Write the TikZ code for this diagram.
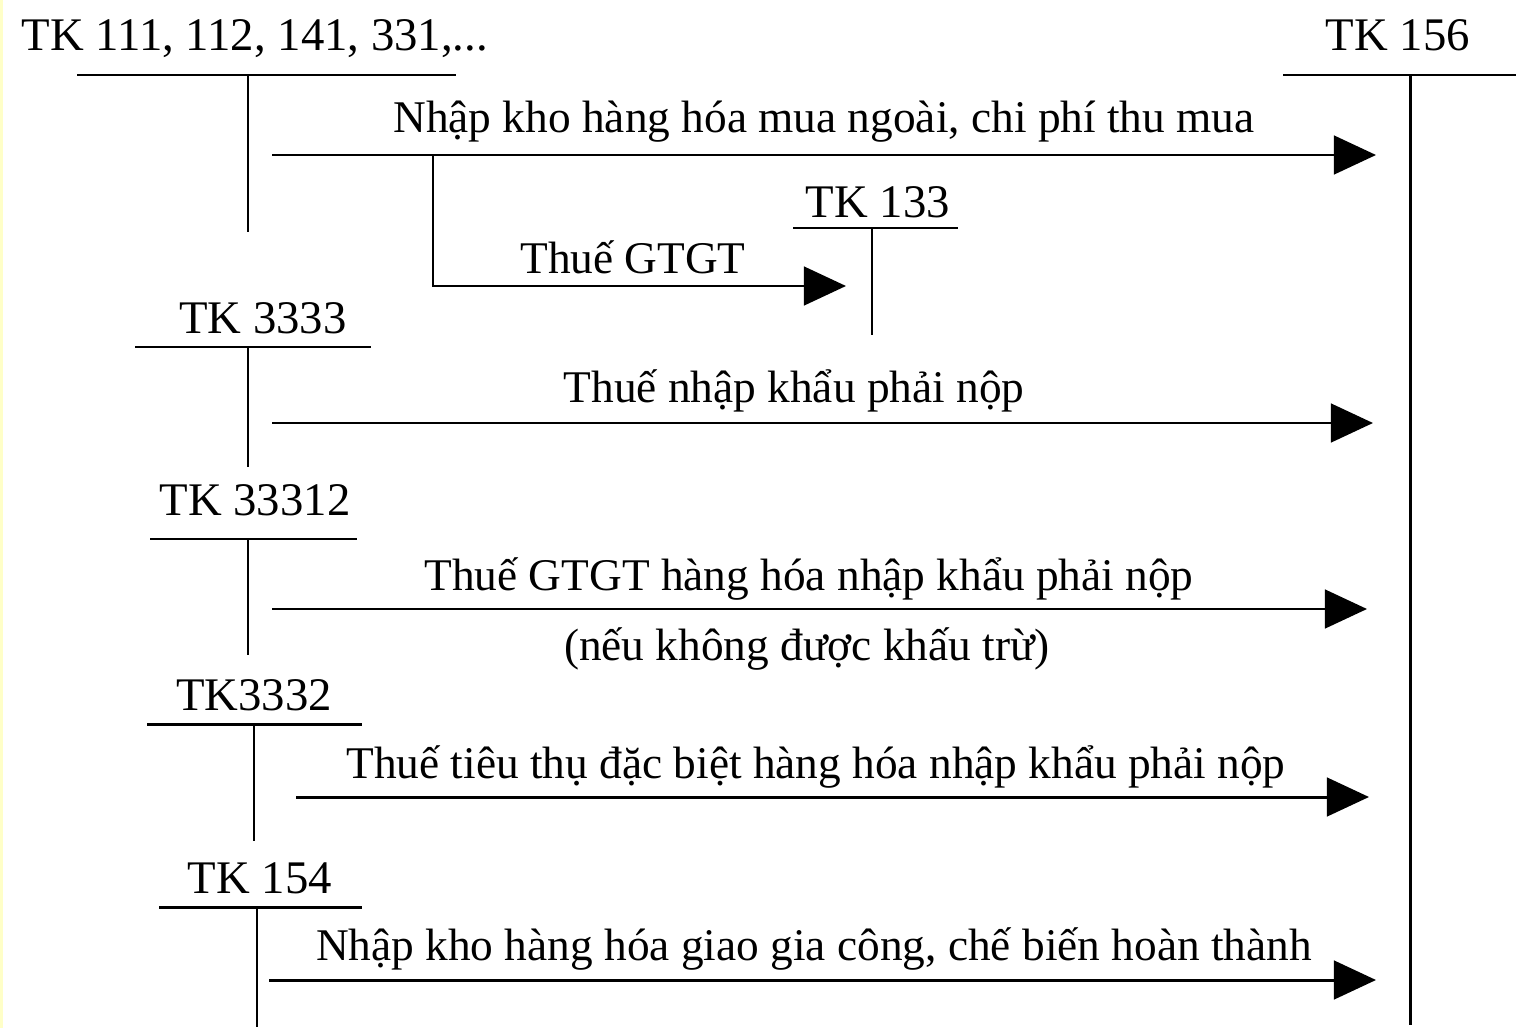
\documentclass[tikz,border=0pt]{standalone}
\usepackage{fontspec}
\setmainfont{Liberation Serif}
\usetikzlibrary{arrows.meta}
\definecolor{edgeyellow}{RGB}{255,255,200}

\begin{document}
\begin{tikzpicture}[x=0.02cm,y=-0.02cm,line width=1.7pt,
    font=\fontsize{26.6}{32}\selectfont,
    flow/.style={-{Triangle[length=24pt,width=22pt]}},
    lbl/.style={anchor=base,inner sep=0pt},
    flowlbl/.style={lbl,font=\fontsize{25.8}{31}\selectfont}]
    % Page and left edge
    \useasboundingbox (0,0) rectangle (1516,1028);
    \fill[white] (0,0) rectangle (1516,1028);
    \fill[edgeyellow] (0,0) rectangle (3,1028);

    % Draw T-accounts
    \node[lbl] (tk111) at (255,50) {TK 111, 112, 141, 331,...};
    \draw (77,75) -- (456,75) (248,75) -- (248,232);
    \node[lbl] (tk156) at (1398,50) {TK 156};
    \draw (1283,75) -- (1516,75) (1410,75) -- (1410,1025);
    \node[lbl] (tk133) at (878,217) {TK 133};
    \draw (793,228) -- (958,228) (872,228) -- (872,335);
    \node[lbl] (tk3333) at (263,333) {TK 3333};
    \draw (135,347) -- (371,347) (248,347) -- (248,467);
    \node[lbl] (tk33312) at (255,515) {TK 33312};
    \draw (150,539) -- (357,539) (248,539) -- (248,655);
    \node[lbl] (tk3332) at (254,710) {TK3332};
    \draw (147,724) -- (362,724) (254,724) -- (254,841);
    \node[lbl] (tk154) at (260,893) {TK 154};
    \draw (159,907) -- (362,907) (257,907) -- (257,1027);

    % Arrow ends
    \coordinate (buyS) at (272,155);
    \coordinate (buyE) at (1376,155);
    \coordinate (vat) at (433,155);
    \coordinate (vatE) at (846,286);
    \coordinate (impS) at (272,423);
    \coordinate (impE) at (1373,423);
    \coordinate (ivatS) at (272,609);
    \coordinate (ivatE) at (1367,609);
    \coordinate (excS) at (296,797);
    \coordinate (excE) at (1369,797);
    \coordinate (procS) at (269,980);
    \coordinate (procE) at (1376,980);

    % Draw flows
    \draw[flow] (buyS) -- (buyE);
    \node[flowlbl] (buy) at (824,132) {Nhập kho hàng hóa mua ngoài, chi phí thu mua};
    \draw[flow] (vat) |- (vatE);
    \node[flowlbl] (vatlbl) at (633,273) {Thuế GTGT};
    \draw[flow] (impS) -- (impE);
    \node[flowlbl] (imp) at (794,402) {Thuế nhập khẩu phải nộp};
    \draw[flow] (ivatS) -- (ivatE);
    \node[flowlbl] (ivat) at (809,590) {Thuế GTGT hàng hóa nhập khẩu phải nộp};
    \node[flowlbl] (ivat2) at (807,660) {(nếu không được khấu trừ)};
    \draw[flow] (excS) -- (excE);
    \node[flowlbl] (exc) at (816,778) {Thuế tiêu thụ đặc biệt hàng hóa nhập khẩu phải nộp};
    \draw[flow] (procS) -- (procE);
    \node[flowlbl] (proc) at (814,960) {Nhập kho hàng hóa giao gia công, chế biến hoàn thành};
\end{tikzpicture}
\end{document}
